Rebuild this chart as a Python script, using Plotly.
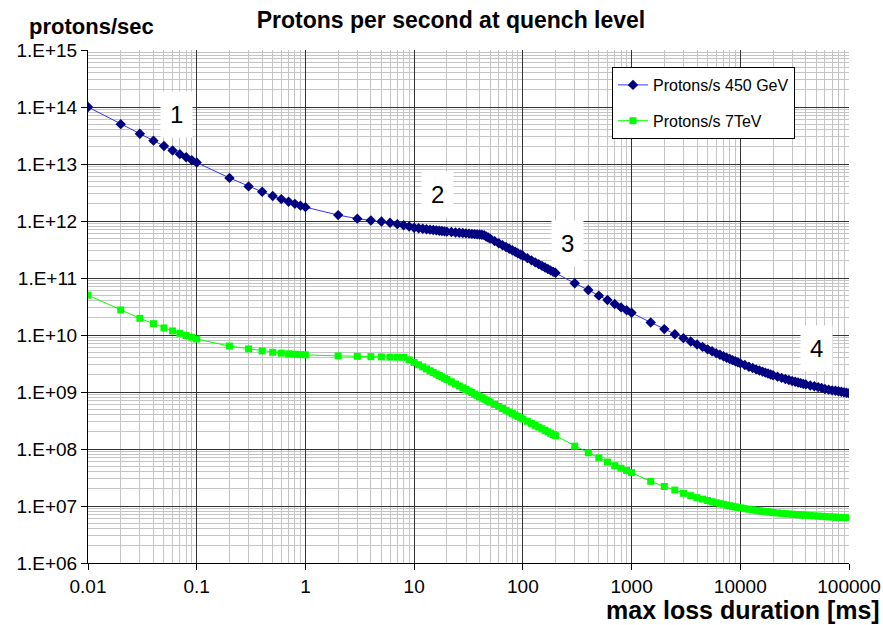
import plotly.graph_objects as go

# ---------------- data ----------------
duration_ms = [
    0.01, 0.02, 0.03, 0.04, 0.05, 0.06, 0.07, 0.08, 0.09, 0.1,
    0.2, 0.3, 0.4, 0.5, 0.6, 0.7, 0.8, 0.9, 1,
    2, 3, 4, 5, 6, 7, 8, 9, 10,
    11, 12, 13, 14, 15, 16, 17, 18, 19, 20,
    22, 24, 26, 28, 30, 32, 34, 36, 38, 40,
    42, 44, 46, 48, 50, 55, 60, 65, 70, 75,
    80, 85, 90, 95, 100, 110, 120, 130, 140, 150,
    160, 170, 180, 190, 200,
    300, 400, 500, 600, 700, 800, 900, 1000,
    1500, 2000, 2500, 3000, 3500, 4000,
    4500, 5000, 5500, 6000, 6500, 7000, 7500, 8000, 8500, 9000, 9500, 10000,
    11000, 12000, 13000, 14000, 15000, 16000, 17000, 18000, 19000, 20000,
    22000, 24000, 26000, 28000, 30000, 32000, 34000, 36000, 38000, 40000,
    44000, 48000, 52000, 56000, 60000, 65000, 70000, 75000, 80000, 85000,
    90000, 95000, 100000,
]

protons_450GeV = [
    1.0e14, 5.0e13, 3.4e13, 2.57e13, 2.07e13, 1.73e13, 1.49e13, 1.31e13, 1.17e13, 1.06e13,
    5.7e12, 4.05e12, 3.25e12, 2.75e12, 2.42e12, 2.18e12, 2.0e12, 1.86e12, 1.75e12,
    1.27e12, 1.1e12, 1.02e12, 9.8e11, 9.3e11, 8.8e11, 8.4e11, 8.0e11, 7.6e11,
    7.45e11, 7.3e11, 7.17e11, 7.05e11, 6.95e11, 6.85e11, 6.76e11, 6.67e11, 6.58e11, 6.5e11,
    6.4e11, 6.3e11, 6.22e11, 6.14e11, 6.07e11, 6.0e11, 5.94e11, 5.88e11, 5.83e11, 5.78e11,
    5.73e11, 5.65e11, 5.35e11, 5.12e11, 4.91e11, 4.44e11, 4.07e11, 3.76e11, 3.49e11, 3.26e11,
    3.06e11, 2.88e11, 2.72e11, 2.58e11, 2.45e11, 2.23e11, 2.04e11, 1.88e11, 1.75e11, 1.63e11,
    1.53e11, 1.44e11, 1.36e11, 1.29e11, 1.23e11,
    8.1e10, 6.15e10, 4.9e10, 4.1e10, 3.5e10, 3.05e10, 2.72e10, 2.45e10,
    1.66e10, 1.27e10, 1.03e10, 8.8e9, 7.7e9, 6.8e9,
    6.2e9, 5.6e9, 5.2e9, 4.8e9, 4.5e9, 4.25e9, 4.0e9, 3.8e9, 3.62e9, 3.46e9, 3.32e9, 3.18e9,
    2.97e9, 2.78e9, 2.63e9, 2.49e9, 2.38e9, 2.28e9, 2.19e9, 2.11e9, 2.03e9, 1.97e9,
    1.86e9, 1.77e9, 1.69e9, 1.62e9, 1.56e9, 1.51e9, 1.47e9, 1.43e9, 1.39e9, 1.36e9,
    1.30e9, 1.26e9, 1.22e9, 1.18e9, 1.13e9, 1.10e9, 1.07e9, 1.05e9, 1.03e9, 1.01e9,
    0.99e9, 0.97e9, 0.95e9,
]

protons_7TeV = [
    5.0e10, 2.75e10, 1.96e10, 1.58e10, 1.33e10, 1.18e10, 1.07e10, 9.8e9, 9.1e9, 8.5e9,
    6.4e9, 5.7e9, 5.25e9, 4.97e9, 4.8e9, 4.68e9, 4.6e9, 4.53e9, 4.48e9,
    4.3e9, 4.22e9, 4.17e9, 4.13e9, 4.1e9, 4.08e9, 4.06e9, 3.67e9, 3.3e9,
    3.0e9, 2.76e9, 2.54e9, 2.36e9, 2.2e9, 2.07e9, 1.95e9, 1.84e9, 1.74e9, 1.66e9,
    1.51e9, 1.38e9, 1.28e9, 1.185e9, 1.105e9, 1.04e9, 9.8e8, 9.2e8, 8.75e8, 8.3e8,
    7.9e8, 7.56e8, 7.23e8, 6.93e8, 6.66e8, 6.06e8, 5.56e8, 5.14e8, 4.77e8, 4.46e8,
    4.19e8, 3.94e8, 3.73e8, 3.53e8, 3.36e8, 3.06e8, 2.81e8, 2.6e8, 2.42e8, 2.26e8,
    2.12e8, 2.0e8, 1.89e8, 1.8e8, 1.71e8,
    1.12e8, 8.6e7, 7.0e7, 5.9e7, 5.1e7, 4.6e7, 4.2e7, 3.85e7,
    2.7e7, 2.2e7, 1.9e7, 1.67e7, 1.52e7, 1.4e7,
    1.32e7, 1.25e7, 1.19e7, 1.14e7, 1.10e7, 1.07e7, 1.04e7, 1.01e7, 9.86e6, 9.65e6, 9.47e6, 9.3e6,
    9.0e6, 8.77e6, 8.56e6, 8.39e6, 8.23e6, 8.1e6, 7.98e6, 7.88e6, 7.78e6, 7.7e6,
    7.55e6, 7.43e6, 7.33e6, 7.24e6, 7.17e6, 7.1e6, 7.04e6, 6.99e6, 6.94e6, 6.9e6,
    6.8e6, 6.72e6, 6.65e6, 6.58e6, 6.52e6, 6.46e6, 6.41e6, 6.37e6, 6.33e6, 6.3e6,
    6.27e6, 6.24e6, 6.2e6,
]

series_names = ["Protons/s 450 GeV", "Protons/s 7TeV"]

x_tick_vals = [0.01, 0.1, 1, 10, 100, 1000, 10000, 100000]
x_tick_text = ["0.01", "0.1", "1", "10", "100", "1000", "10000", "100000"]
y_tick_vals = [1e6, 1e7, 1e8, 1e9, 1e10, 1e11, 1e12, 1e13, 1e14, 1e15]
y_tick_text = ["1.E+06", "1.E+07", "1.E+08", "1.E+09", "1.E+10",
               "1.E+11", "1.E+12", "1.E+13", "1.E+14", "1.E+15"]

region_labels = ["1", "2", "3", "4"]

title_text = "Protons per second at quench level"
y_title_text = "protons/sec"
x_title_text = "max loss duration [ms]"

# ---------------- figure ----------------
FONT = "Liberation Sans, Arial, sans-serif"
L, R, T, B = 88, 849, 50, 563   # plot area in pixels
W, H = R - L, B - T


def px_x(p):
    return (p - L) / W


def px_y(p):
    return (B - p) / H


fig = go.Figure()
fig.add_trace(go.Scatter(
    x=duration_ms, y=protons_450GeV, name=series_names[0],
    mode="lines+markers", legendgroup="a",
    line=dict(color="#3333ff", width=1),
    marker=dict(symbol="diamond", size=8, color="#000080"),
))
fig.add_trace(go.Scatter(
    x=duration_ms, y=protons_7TeV, name=series_names[1],
    mode="lines+markers", legendgroup="b",
    line=dict(color="#00ff00", width=1),
    marker=dict(symbol="square", size=7, color="#00ff00"),
))

grid_major = "#333333"
grid_minor = "#c4c4c4"

common_axis = dict(
    ticks="outside", ticklen=6, tickcolor="black",
    showline=True, linecolor="black", linewidth=1, mirror=False,
    showgrid=True, gridcolor=grid_major, gridwidth=1,
    minor=dict(dtick="D1", showgrid=True, gridcolor=grid_minor, gridwidth=1, ticks=""),
    tickfont=dict(family=FONT, size=19, color="black"),
    zeroline=False, automargin=False,
)
fig.update_xaxes(type="log", range=[-2, 5], tickmode="array",
                 tickvals=x_tick_vals, ticktext=x_tick_text, **common_axis)
fig.update_yaxes(type="log", range=[6, 15], tickmode="array",
                 tickvals=y_tick_vals, ticktext=y_tick_text, **common_axis)

# region labels
label_pos = [(176, 114), (437, 194), (567, 243), (816, 348)]
for txt, (px, py) in zip(region_labels, label_pos):
    fig.add_annotation(
        x=px_x(px), y=px_y(py), xref="paper", yref="paper",
        xanchor="center", yanchor="middle",
        text=txt, showarrow=False, bgcolor="white", borderpad=9,
        font=dict(family=FONT, size=24, color="black"),
    )

fig.add_annotation(
    x=px_x(27), y=px_y(26), xref="paper", yref="paper",
    text="<b>%s</b>" % y_title_text, showarrow=False,
    xanchor="left", yanchor="middle",
    font=dict(family=FONT, size=22, color="black"),
)
fig.add_annotation(
    x=px_x(881), y=px_y(610), xref="paper", yref="paper",
    text="<b>%s</b>" % x_title_text, showarrow=False,
    xanchor="right", yanchor="middle", borderpad=0,
    font=dict(family=FONT, size=25, color="black"),
)

fig.update_layout(
    width=883, height=625,
    margin=dict(l=L, r=883 - R, t=T, b=625 - B, autoexpand=False),
    paper_bgcolor="white", plot_bgcolor="white",
    title=dict(text="<b>%s</b>" % title_text, x=451 / 883, xanchor="center",
               y=1 - 20 / 625, yanchor="middle",
               font=dict(family=FONT, size=23, color="black")),
    showlegend=True,
    legend=dict(
        x=px_x(612), y=px_y(67), xanchor="left", yanchor="top",
        bgcolor="white", bordercolor="black", borderwidth=1,
        font=dict(family=FONT, size=16, color="black"),
        traceorder="grouped", tracegroupgap=12, itemwidth=30,
    ),
)

fig.write_html("out.html")
